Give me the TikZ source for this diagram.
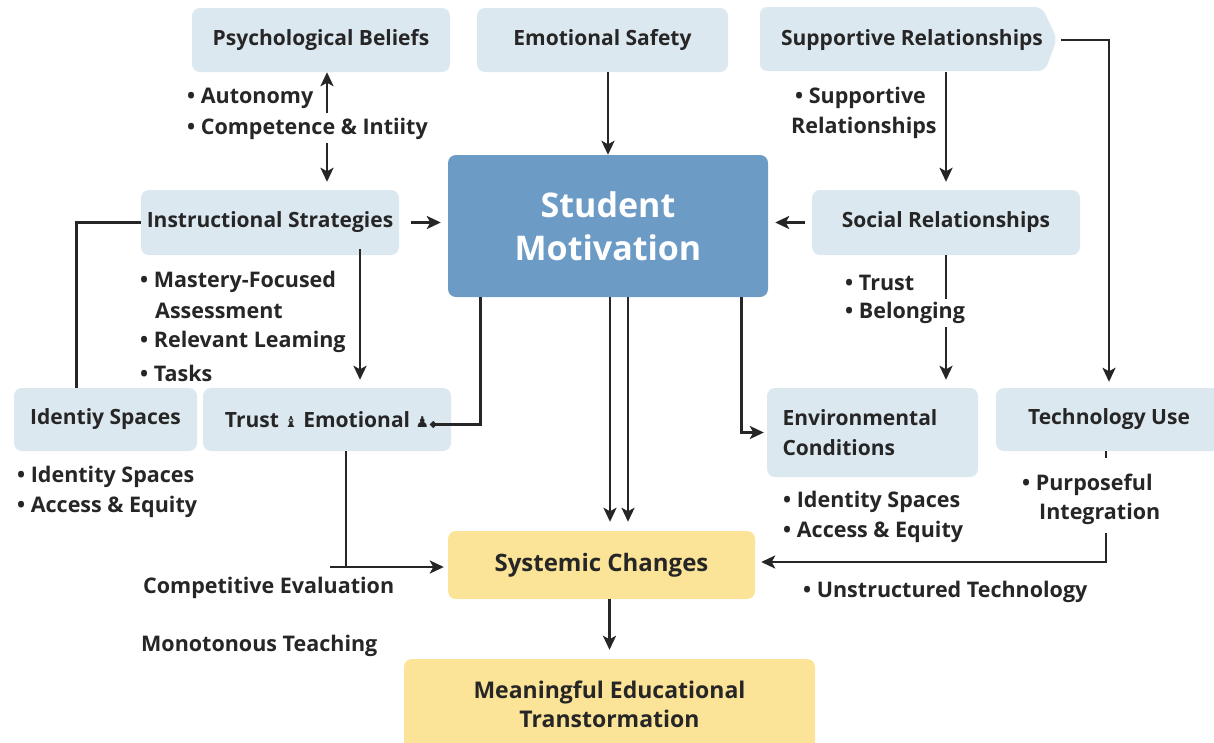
\documentclass[tikz,border=0pt]{standalone}
\usepackage{fontspec}
\setmainfont{Open Sans}
\newfontfamily\symfont{DejaVu Sans}
\usetikzlibrary{arrows.meta}
\definecolor{boxblue}{RGB}{220,232,240}
\definecolor{mainblue}{RGB}{108,155,198}
\definecolor{boxyellow}{RGB}{251,228,152}
\definecolor{ink}{RGB}{38,38,38}
\tikzset{
  box/.style={fill=boxblue, rounded corners=8pt, text=ink, font=\fontsize{21}{24}\selectfont\bfseries, inner sep=0pt},
  ybox/.style={fill=boxyellow, rounded corners=8pt, text=ink, font=\fontsize{23}{29}\selectfont\bfseries, inner sep=0pt, align=center},
  lbl/.style={anchor=west, text=ink, font=\fontsize{21.5}{24}\selectfont\bfseries, inner sep=0pt},
  conn/.style={draw=ink, line width=2.8pt},
  arr/.style={conn, -{Stealth[length=14pt,width=13pt,inset=3.5pt]}},
  dotend/.style={conn, -{Circle[length=6pt]}}
}
\begin{document}
\begin{tikzpicture}[x=1pt,y=-1pt]
\useasboundingbox[fill=white] (0,0) rectangle (1214,742);
% boxes
\node[box, minimum width=258, minimum height=64] (psy) at (321,40) {Psychological Beliefs};
\node[box, minimum width=251, minimum height=64] (emo) at (602.5,40) {Emotional Safety};
\fill[boxblue, rounded corners=7pt] (760,7) -- (1042,7) -- (1057,39) -- (1045,71) -- (760,71) -- cycle;
\node[box, fill=none, minimum width=297, minimum height=64] (supp) at (912,40) {Supportive Relationships};
\node[fill=mainblue, rounded corners=8pt, text=white, font=\fontsize{34}{43}\selectfont\bfseries, align=center, minimum width=320, minimum height=142, inner sep=0pt] (sm) at (608,226) {Student\\Motivation};
\node[box, minimum width=258, minimum height=65] (instr) at (270,222.5) {Instructional Strategies};
\node[box, minimum width=268, minimum height=65] (soc) at (946,222.5) {Social Relationships};
\node[box, minimum width=183, minimum height=63] (iden) at (105.5,419.5) {Identiy Spaces};
\node[box, minimum width=248, minimum height=63] (trust) at (327,419.5) {Trust {\symfont\fontsize{15}{15}\selectfont ♝} Emotional {\symfont\fontsize{15}{15}\selectfont ♟}\hspace{6pt}};
\node[box, minimum width=211, minimum height=89, align=left, text width=180, font=\fontsize{21}{30}\selectfont\bfseries] (env) at (872.5,432.5) {Environmental\\Conditions};
\node[box, minimum width=226, minimum height=63] (tech) at (1109,419.5) {Technology Use};
\node[ybox, minimum width=307, minimum height=68, font=\fontsize{24}{28}\selectfont\bfseries] (sys) at (601.5,565) {Systemic Changes};
\node[ybox, minimum width=411, minimum height=90] (mean) at (609.5,704) {Meaningful Educational\\Transtormation};
% labels
\node[lbl] (la1) at (187,98) {• Autonomy};
\node[lbl] (la2) at (187,129) {• Competence \& Intiity};
\node[lbl] (lb1) at (795,98) {• Supportive};
\node[lbl] (lb2) at (791,128) {Relationships};
\node[lbl] (lc1) at (140,282) {• Mastery-Focused};
\node[lbl] (lc2) at (155,311) {Assessment};
\node[lbl] (lc3) at (140,342) {• Relevant Leaming};
\node[lbl] (lc4) at (140,373) {• Tasks};
\node[lbl] (ld1) at (845,283) {• Trust};
\node[lbl] (le1) at (17,477) {• Identity Spaces};
\node[lbl] (le2) at (17,507) {• Access \& Equity};
\node[lbl] (lf1) at (783,502) {• Identity Spaces};
\node[lbl] (lf2) at (783,532) {• Access \& Equity};
\node[lbl] (lg1) at (1022,485) {• Purposeful};
\node[lbl] (lg2) at (1039,514) {Integration};
\node[lbl] (lh1) at (803,592) {• Unstructured Technology};
\node[lbl] (li1) at (143,588) {Competitive Evaluation};
\node[lbl] (li2) at (141,646) {Monotonous Teaching};
% coordinates
\coordinate (pu) at (327,113);
\coordinate (pd) at (327,143);
\coordinate (kx) at (360,0);
\coordinate (tx) at (346,0);
\coordinate (stub) at (330,567);
\coordinate (tt) at (1106,533);
% connectors
\draw[arr] (pu) -- (pu |- psy.south);
\draw[arr, shorten >=8pt] (pd) -- (pd |- instr.north);
\draw[arr] (emo.south -| sm.north) -- (sm.north);
\draw[arr, shorten >=8pt] (supp.south -| soc.north) -- (soc.north);
\draw[arr, shorten >=6pt] (supp.east) -| (tech.north);
\draw[arr, shorten <=12pt, shorten >=7pt] (instr.east) -- (instr.east -| sm.west);
\draw[arr, shorten <=7pt, shorten >=7pt] (soc.west) -- (soc.west -| sm.east);
\draw[conn] (instr.west) -| ([xshift=-29pt]iden.north);
\draw[arr, shorten >=8pt] ([yshift=6pt]instr.south -| kx) -- (trust.north -| kx);
\draw[arr, shorten >=8pt] (soc.south) -- (soc.south |- env.north);
\node[lbl, fill=white, inner ysep=3pt] (ld2) at (845,313) {• Belonging};
\draw[dotend] ([xshift=33pt]sm.south west) |- ([xshift=-21pt,yshift=-5pt]trust.east);
\draw[arr, shorten >=9pt] ([xshift=2pt]sm.south) -- ([xshift=2pt]sm.south |- sys.north);
\draw[arr, shorten >=9pt] ([xshift=20pt]sm.south) -- ([xshift=20pt]sm.south |- sys.north);
\draw[arr, shorten >=3pt] ([xshift=-27pt]sm.south east) |- (env.west);
\draw[conn] (trust.south -| tx) -- (tx |- stub);
\draw[arr, shorten >=4pt] (stub) -- (sys.west |- stub);
\draw[conn] (tech.south -| tt) -- ++(0,7);
\draw[arr, shorten >=6pt] (tt) |- ([yshift=3pt]sys.east);
\draw[arr, shorten >=9pt] ([xshift=8pt]sys.south) -- ([xshift=8pt]sys.south |- mean.north);
\end{tikzpicture}
\end{document}
